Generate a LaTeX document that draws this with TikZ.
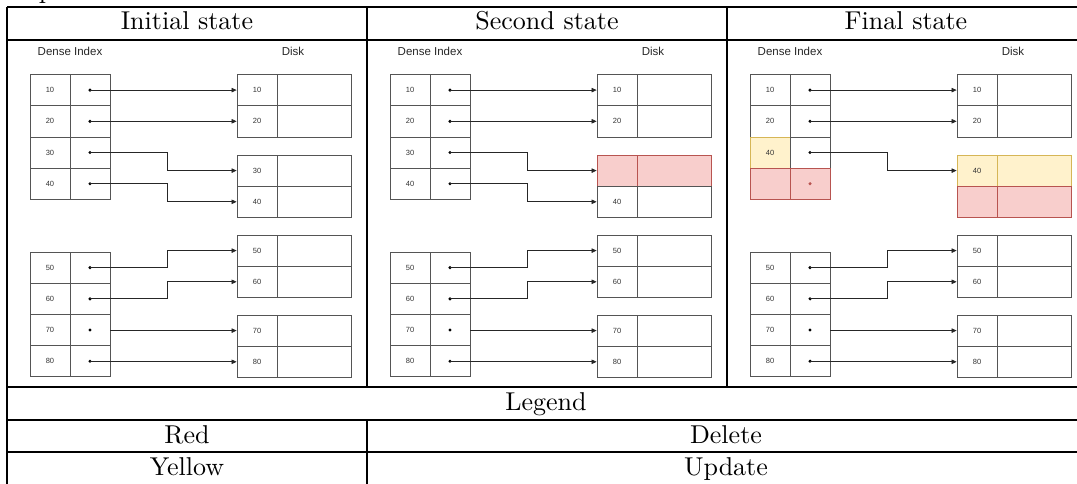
\documentclass[tikz,border=0pt]{standalone}
\usepackage{fontspec}
\newfontfamily\arial{Liberation Sans}
\usetikzlibrary{arrows.meta}
\definecolor{redfill}{HTML}{F8CECC}
\definecolor{redline}{HTML}{B85450}
\definecolor{yelfill}{HTML}{FFF2CC}
\definecolor{yelline}{HTML}{D6B656}
\definecolor{cellline}{HTML}{555555}
\newcommand\bigtext[1]{\scalebox{2.6}[2.58]{#1}}
\tikzset{
  keycell/.style={draw=cellline, line width=0.8pt, minimum width=40pt, minimum height=31.2pt,
    inner sep=0pt, font=\arial\fontsize{7.5}{9}\selectfont, text=black!80},
  valcell/.style={keycell, minimum width=74pt},
  ptrcell/.style={keycell},
  ptdot/.style={circle, fill=black, inner sep=0pt, minimum size=3.4pt},
  link/.style={draw=black!85, line width=0.7pt, -{Triangle[length=5pt,width=4.5pt]}},
  deleted/.style={fill=redfill, draw=redline},
  updated/.style={fill=yelfill, draw=yelline},
  gridline/.style={line width=1.2pt, black},
  titletext/.style={inner sep=0pt, anchor=base},
  caption/.style={font=\arial\fontsize{11.5}{13}\selectfont, text=black!85, inner sep=0pt},
}
\newcommand\commonpanel{%
  \node[caption] (lab) at (70,51) {Dense Index};
  \node[caption] (dlab) at (293,51) {Disk};
  \coordinate (ex) at (167,0);
  \foreach \k/\y in {10/90.1, 20/121.3, 50/267.6, 60/298.8, 70/330, 80/361.2} {
    \node[keycell] (k\k) at (50,\y) {\k};
    \node[ptrcell] (p\k) at (90,\y) {};
    \node[ptdot] (q\k) at (90,\y) {};
  }
  \foreach \k/\y in {10/90.1, 20/121.3, 50/250.6, 60/281.8, 70/330.6, 80/361.8} {
    \node[keycell] (d\k) at (257,\y) {\k};
    \node[valcell] (v\k) at (314,\y) {};
  }
  \foreach \k in {10,20,50,60,80} {
    \draw[link] (q\k.center) -- (q\k.center -| ex) |- (d\k.west);
  }
  \draw[link] (p70.east) -- (p70.east -| ex) |- (d70.west);
}
\begin{document}
\begin{tikzpicture}[x=1pt,y=-1pt]
\useasboundingbox (0,0) rectangle (1077,483);
% table frame
\draw[gridline] (7,7) -- (1086,7);
\draw[gridline] (7,40) -- (1086,40);
\draw[gridline] (7,387) -- (1086,387);
\draw[gridline] (7,420) -- (1086,420);
\draw[gridline] (7,452) -- (1086,452);
\draw[gridline] (7,7) -- (7,490);
\draw[gridline] (367,7) -- (367,387);
\draw[gridline] (367,420) -- (367,490);
\draw[gridline] (727,7) -- (727,387);
\draw[gridline] (1086,7) -- (1086,490);
\node[titletext] (cut) at (46,-1.9) {\bigtext{p}};
\node[titletext] (h1) at (187,29.5) {\bigtext{Initial state}};
\node[titletext] (h2) at (547,29.5) {\bigtext{Second state}};
\node[titletext] (h3) at (906,29.5) {\bigtext{Final state}};
\node[titletext] (lg) at (546,410) {\bigtext{Legend}};
\node[titletext] (lr) at (187,443) {\bigtext{Red}};
\node[titletext] (ld) at (726,443) {\bigtext{Delete}};
\node[titletext] (ly) at (187,475.5) {\bigtext{Yellow}};
\node[titletext] (lu) at (726,475.5) {\bigtext{Update}};
% panel 1
\begin{scope}[name prefix=a-]
  \commonpanel
  \foreach \k/\y in {30/152.5, 40/183.7} {
    \node[keycell] (k\k) at (50,\y) {\k};
    \node[ptrcell] (p\k) at (90,\y) {};
    \node[ptdot] (q\k) at (90,\y) {};
  }
  \node[keycell] (d30) at (257,170.6) {30};
  \node[valcell] (v30) at (314,170.6) {};
  \node[keycell] (d40) at (257,201.8) {40};
  \node[valcell] (v40) at (314,201.8) {};
  \draw[link] (q30.center) -- (q30.center -| ex) |- (d30.west);
  \draw[link] (q40.center) -- (q40.center -| ex) |- (d40.west);
\end{scope}
% panel 2
\begin{scope}[shift={(360,0)}, name prefix=b-]
  \commonpanel
  \foreach \k/\y in {30/152.5, 40/183.7} {
    \node[keycell] (k\k) at (50,\y) {\k};
    \node[ptrcell] (p\k) at (90,\y) {};
    \node[ptdot] (q\k) at (90,\y) {};
  }
  \node[keycell, deleted] (d30) at (257,170.6) {};
  \node[valcell, deleted] (v30) at (314,170.6) {};
  \node[keycell] (d40) at (257,201.8) {40};
  \node[valcell] (v40) at (314,201.8) {};
  \draw[link] (q30.center) -- (q30.center -| ex) |- (d30.west);
  \draw[link] (q40.center) -- (q40.center -| ex) |- (d40.west);
\end{scope}
% panel 3
\begin{scope}[shift={(720,0)}, name prefix=c-]
  \commonpanel
  \node[keycell, updated] (k30) at (50,152.5) {40};
  \node[ptrcell] (p30) at (90,152.5) {};
  \node[ptdot] (q30) at (90,152.5) {};
  \node[keycell, deleted] (k40) at (50,183.7) {};
  \node[ptrcell, deleted] (p40) at (90,183.7) {};
  \node[ptdot, fill=redline] (q40) at (90,183.7) {};
  \node[keycell, updated] (d30) at (257,170.6) {40};
  \node[valcell, updated] (v30) at (314,170.6) {};
  \node[keycell, deleted] (d40) at (257,201.8) {};
  \node[valcell, deleted] (v40) at (314,201.8) {};
  \draw[link] (q30.center) -- (q30.center -| ex) |- (d30.west);
\end{scope}
\end{tikzpicture}
\end{document}
